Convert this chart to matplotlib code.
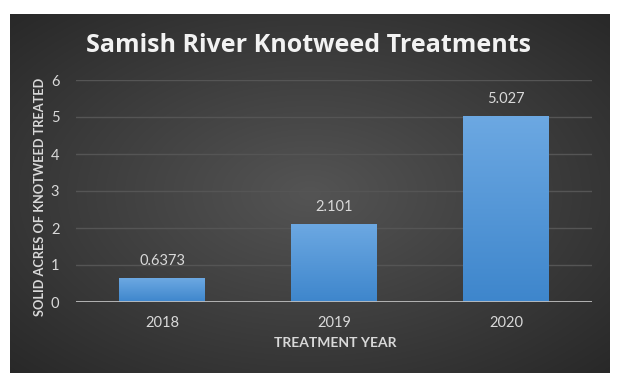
import numpy as np
import matplotlib
matplotlib.use('Agg')
import matplotlib.pyplot as plt
from matplotlib.patches import Rectangle

years = ['2018', '2019', '2020']
acres = [0.6373, 2.101, 5.027]
labels = ['0.6373', '2.101', '5.027']
yticks = [0, 1, 2, 3, 4, 5, 6]

W, H = 622, 386
fig = plt.figure(figsize=(W / 100, H / 100), dpi=100)
fig.patch.set_facecolor('white')

# ---- dark panel with radial gradient ----
px0, py0, px1, py1 = 10, 14, 610, 373
bg = fig.add_axes([px0 / W, 1 - py1 / H, (px1 - px0) / W, (py1 - py0) / H])
bg.set_axis_off()
yy, xx = np.mgrid[-1:1:200j, -1:1:300j]
r = np.sqrt(xx ** 2 + yy ** 2)
shade = 0.33 - 0.17 * np.clip(r / 1.4, 0, 1)
bg.imshow(np.dstack([shade] * 3), aspect='auto', extent=[0, 1, 0, 1], interpolation='bilinear')

# ---- plot area ----
ax0, ay0, ax1, ay1 = 76, 80, 592, 302
ax = fig.add_axes([ax0 / W, 1 - ay1 / H, (ax1 - ax0) / W, (ay1 - ay0) / H])
ax.set_facecolor('none')
x = np.arange(len(years))

grad = np.linspace(0, 1, 100).reshape(-1, 1)
top = np.array([0x6c, 0xa8, 0xe2]) / 255
bot = np.array([0x3e, 0x86, 0xcc]) / 255
cols = bot + (top - bot) * grad[:, :, None]
for i, v in enumerate(acres):
    rect = Rectangle((x[i] - 0.25, 0), 0.5, v, facecolor='none', edgecolor='none')
    ax.add_patch(rect)
    im = ax.imshow(cols, extent=[x[i] - 0.25, x[i] + 0.25, 0, v], origin='lower',
                   aspect='auto', zorder=2)
    im.set_clip_path(rect)
    ax.text(x[i], v + 0.28, labels[i], ha='center', va='bottom', color='#d9d9d9',
            fontsize=10.5, family='Lato')
ax.set_aspect('auto')
ax.set_xlim(-0.5, len(years) - 0.5)
ax.set_ylim(0, 6)

for t in yticks[1:]:
    ax.axhline(t, color='#555555', lw=1, zorder=1)
ax.axhline(0, color='#bdbdbd', lw=1.3, zorder=3)

for s in ax.spines.values():
    s.set_visible(False)
ax.set_xticks(x)
ax.set_xticklabels(years)
ax.set_yticks(yticks)
ax.tick_params(length=0, colors='#d9d9d9', labelsize=10.5)
ax.tick_params(axis='x', pad=10)
ax.tick_params(axis='y', pad=12)
for lab in ax.get_xticklabels() + ax.get_yticklabels():
    lab.set_family('Lato')

fig.text(335 / W, 1 - 343 / H, 'TREATMENT YEAR', ha='center', va='center',
         color='#d9d9d9', fontsize=10, fontweight='bold', family='Lato')
fig.text(40 / W, 1 - 197 / H, 'SOLID ACRES OF KNOTWEED TREATED', ha='center', va='center',
         rotation=90, color='#d9d9d9', fontsize=9.2, fontweight='bold', family='Lato')

fig.text(309 / W, 1 - 45 / H, 'Samish River Knotweed Treatments', ha='center', va='center',
         color='#f2f2f2', fontsize=18, fontweight='bold', family='Open Sans')

fig.savefig('out.png', dpi=100, facecolor='white')
